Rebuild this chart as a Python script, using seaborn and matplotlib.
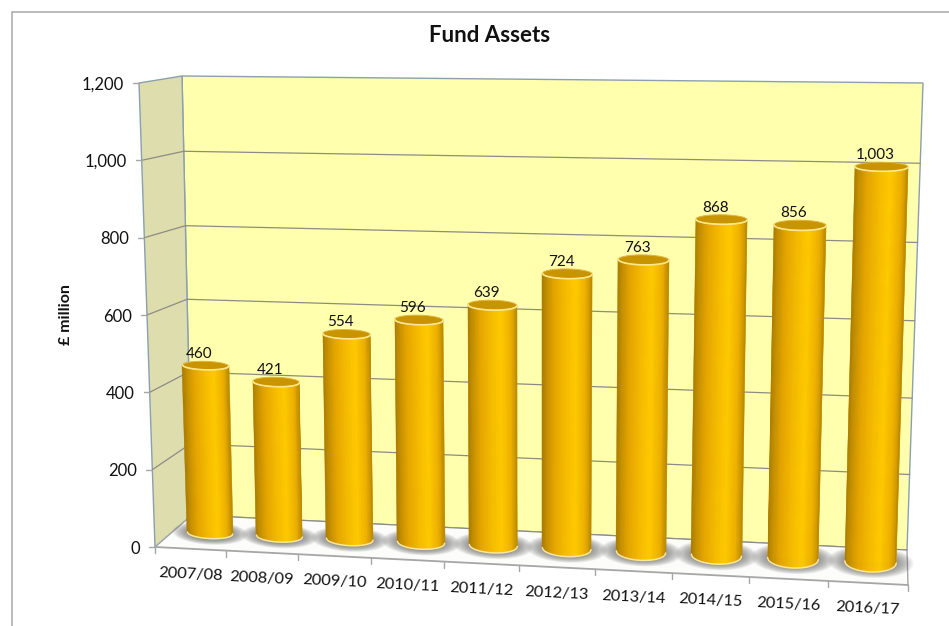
import numpy as np
import pandas as pd
import seaborn as sns
import matplotlib
matplotlib.use("Agg")
import matplotlib.pyplot as plt
from matplotlib.colors import LinearSegmentedColormap
from matplotlib.patches import Polygon, Rectangle
from matplotlib.transforms import Transform, IdentityTransform

years = ["2007/08", "2008/09", "2009/10", "2010/11", "2011/12",
         "2012/13", "2013/14", "2014/15", "2015/16", "2016/17"]
assets = [460, 421, 554, 596, 639, 724, 763, 868, 856, 1003]
value_ticks = [0, 200, 400, 600, 800, 1000, 1200]

W, H = 949, 626


class Homography(Transform):
    """Projective map from a plane of the 3-D box to image pixels."""
    input_dims = output_dims = 2
    is_separable = False
    has_inverse = False

    def __init__(self, src, dst):
        super().__init__()
        rows, rhs = [], []
        for (x, y), (u, v) in zip(src, dst):
            rows.append([x, y, 1, 0, 0, 0, -u * x, -u * y])
            rows.append([0, 0, 0, x, y, 1, -v * x, -v * y])
            rhs += [u, v]
        self.m = np.append(np.linalg.solve(np.array(rows, float), np.array(rhs, float)), 1).reshape(3, 3)

    def transform_non_affine(self, values):
        values = np.asarray(values, float)
        p = np.column_stack([values, np.ones(len(values))]) @ self.m.T
        return np.column_stack([p[:, 0] / p[:, 2], H - p[:, 1] / p[:, 2]])


edges = [(-0.5, 0), (9.5, 0), (-0.5, 1200), (9.5, 1200)]
back = Homography(edges, [(192, 515), (907, 550), (182, 76), (923, 83)])
front = Homography(edges, [(155, 547), (908, 585), (139, 82), (928, 89)])
floor = Homography([(0, 0), (1, 0), (0, 1), (1, 1)],
                   [(155, 547), (908, 585), (192, 515), (907, 550)])
mid = Homography([(0, 0), (9, 0), (0, 1000), (9, 1000)],
                 [(210, 533), (870.5, 562), (200, 163), (881.5, 168)])


def left_edge(v):
    """Display position of a value on the front-left edge of the box."""
    return 155 - 16 * v / 1200, H - (547 - 464 * v / 1200)


def back_left(v):
    return tuple(back.transform(np.array([[-0.5, v]]))[0])


sns.set_theme(style="white")
plt.rcParams["font.family"] = ["Lato", "DejaVu Sans"]

fig = plt.figure(figsize=(W / 100, H / 100), dpi=100)
ax = fig.add_axes([0, 0, 1, 1])
frame = pd.DataFrame({"position": np.arange(len(years)), "assets": assets})
sns.barplot(data=frame, x="position", y="assets", color="#E8A800", width=0.66,
            native_scale=True, errorbar=None, saturation=1, ax=ax)
ax.set_axis_off()

GRID = "#8C8C84"
EDGE = "#8AA0AE"
AXIS = "#A6A6A6"
TEXT = "#111111"
screen = IdentityTransform()

# Chart border, running off the right and bottom of the image
ax.add_patch(Rectangle((11.5, -20), W + 40, H - 11.5 + 20, fill=False, ec="#A8A8A8", lw=1.1,
                       transform=screen, clip_on=False, zorder=0))

# Box walls
ax.add_patch(Polygon([(-0.5, 0), (9.5, 0), (9.5, 1200), (-0.5, 1200)], transform=back,
                     fc="#FFFFAE", ec=EDGE, lw=1.0, clip_on=False, zorder=1))
ax.add_patch(Polygon([left_edge(0), back_left(0), back_left(1200), left_edge(1200)],
                     transform=screen, fc="#DEDDAE", ec=EDGE, lw=1.0, clip_on=False, zorder=1))
ax.add_patch(Polygon([(0, 0), (1, 0), (1, 1), (0, 1)], transform=floor,
                     fc="#FCFCFA", ec="none", clip_on=False, zorder=1.5))
ax.plot([0, 1], [0, 0], transform=floor, color=AXIS, lw=1.3, clip_on=False, zorder=1.6)
ax.plot([0, 0], [0, 1], transform=floor, color=AXIS, lw=1.0, clip_on=False, zorder=1.6)
ax.plot([1, 1], [0, 1], transform=floor, color=AXIS, lw=1.0, clip_on=False, zorder=1.6)

# Gridlines across the back and side walls
for v in value_ticks[:-1]:
    ax.plot([-0.5, 9.5], [v, v], transform=back, color=GRID, lw=0.9, clip_on=False, zorder=1.8)
    if v:
        pts = np.array([left_edge(v), back_left(v)])
        ax.plot(pts[:, 0], pts[:, 1], transform=screen, color=GRID, lw=0.9, clip_on=False, zorder=1.2)

# Value axis on the front-left edge
for v in value_ticks:
    x0, y0 = left_edge(v)
    ax.plot([x0 - 6, x0], [y0, y0], transform=screen, color=AXIS, lw=1.0, clip_on=False, zorder=1.7)
    ax.annotate(f"{v:,}", xy=(x0, y0), xycoords=screen, xytext=(-15, 0),
                textcoords="offset pixels", ha="right", va="center_baseline",
                fontsize=12, color=TEXT)

# Category ticks and slightly tilted labels along the front edge
for k in range(11):
    x0, y0 = front.transform(np.array([[k - 0.5, 0]]))[0]
    ax.plot([x0, x0], [y0, y0 - 6], transform=screen, color=AXIS, lw=1.0, clip_on=False, zorder=1.7)
for i, label in enumerate(years):
    ax.annotate(label, xy=(i, 0), xycoords=front, xytext=(0, -26), textcoords="offset pixels",
                ha="center", va="center", rotation=-2.8, rotation_mode="anchor",
                fontsize=11.8, color=TEXT)

metal = LinearSegmentedColormap.from_list(
    "metal", [(0, "#A87A00"), (0.06, "#BC8A00"), (0.25, "#E6A600"), (0.5, "#F8BE00"),
              (0.68, "#FFCB00"), (0.88, "#EDB000"), (0.97, "#C79400"), (1, "#B88800")])
theta = np.linspace(0, 2 * np.pi, 90)


def ellipse_depth(i, v):
    """Half height of a cylinder cross-section, in value units, seen from above."""
    return 2.6 * (6 + 4 * i / 9) * (1 - v / 1750)


for i, bar in enumerate(ax.containers[0]):
    left, width, value = bar.get_x(), bar.get_width(), bar.get_height()
    cx, r = left + width / 2, width / 2
    bar.set_transform(mid)
    bar.set_clip_on(False)
    bar.set_edgecolor("none")
    bar.set_zorder(3.5)

    # Soft contact shadow on the floor
    for s in np.linspace(1.0, 0.45, 22):
        ax.add_patch(Polygon(np.column_stack([cx + 0.55 * s * np.cos(theta),
                                              (33 + 1.0 * i) * s * np.sin(theta)]),
                             transform=mid, fc="#555555", ec="none", alpha=0.05,
                             clip_on=False, zorder=3))

    # Cylinder wall with a horizontal metallic gradient
    u = np.linspace(-1, 1, 61)
    arc = np.sqrt(1 - u ** 2)
    xs = np.vstack([cx + r * u, cx + r * u])
    ys = np.vstack([-ellipse_depth(i, 0) * arc, value - ellipse_depth(i, value) * arc])
    shade = (u[:-1] + u[1:]) / 4 + 0.5
    ax.pcolormesh(xs, ys, shade[None, :], cmap=metal, vmin=0, vmax=1, transform=mid,
                  shading="flat", clip_on=False, zorder=4, antialiased=True,
                  edgecolors="face", linewidth=0.35)

    # Pale rim along the foot of the cylinder
    ax.plot(cx + r * u, -ellipse_depth(i, 0) * arc, transform=mid, color="#F7E6A6", lw=1.1,
            clip_on=False, zorder=4.2)

    # Cap, with a bright rim on its near side
    dv = ellipse_depth(i, value)
    ax.add_patch(Polygon(np.column_stack([cx + r * np.cos(theta), value + dv * np.sin(theta)]),
                         transform=mid, fc="#C89400", ec="#E3B540", lw=0.7,
                         clip_on=False, zorder=4.5))
    ax.plot(cx + r * u, value - dv * arc, transform=mid, color="#FFE78F", lw=1.2,
            clip_on=False, zorder=4.6)

    ax.annotate(f"{assets[i]:,}", xy=(cx, value), xycoords=mid, xytext=(-6, 12),
                textcoords="offset pixels", ha="center", va="center", fontsize=11,
                color=TEXT, zorder=6)

fig.text(490 / W, 1 - 36 / H, "Fund Assets", ha="center", va="center",
         fontsize=16, fontweight="bold", color="#111111")
fig.text(66 / W, 1 - 315 / H, "£ million", ha="center", va="center", rotation=90,
         fontsize=11.5, fontweight="bold", color="#111111")

fig.savefig("out.png", dpi=100)
